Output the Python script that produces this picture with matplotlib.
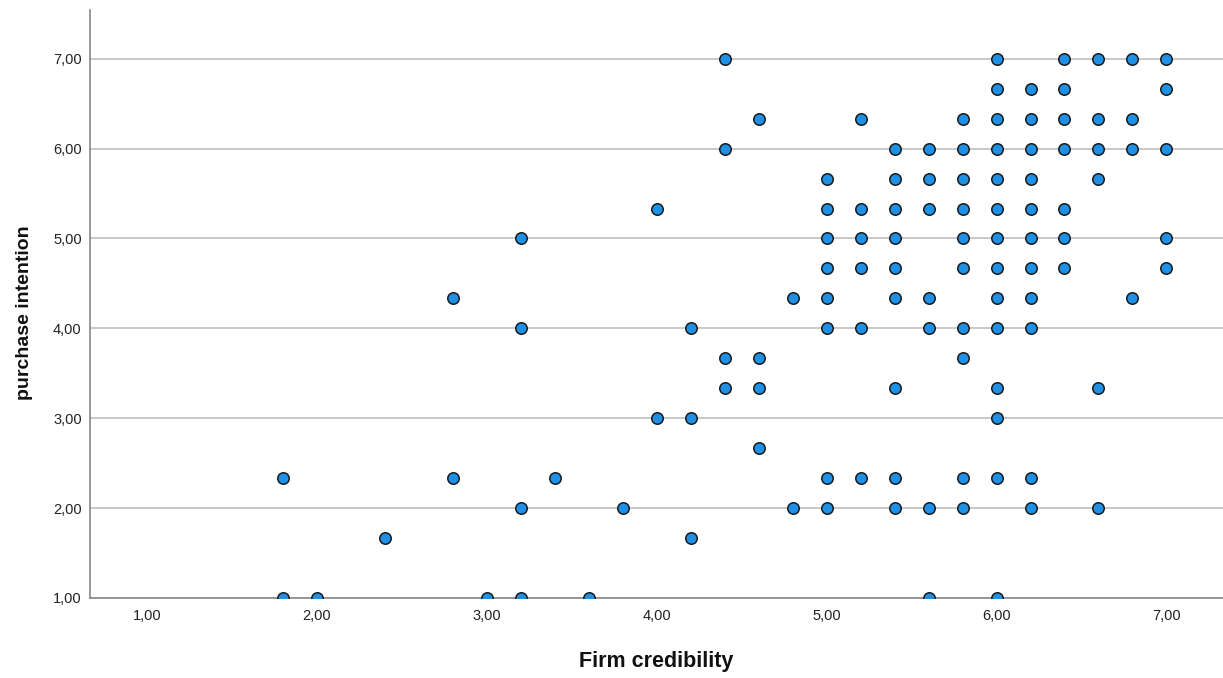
import matplotlib
matplotlib.use("Agg")
import matplotlib.pyplot as plt
from matplotlib.ticker import FuncFormatter

plt.rcParams['font.family'] = ['Liberation Sans', 'DejaVu Sans']

# one entry per visible dot (overlapping cases show as a single dot)
firm_credibility = [
    1.8, 1.8, 2.0, 2.4, 2.8, 2.8, 3.0, 3.2, 3.2, 3.2, 3.2, 3.4, 3.6, 3.8,
    4.0, 4.0, 4.2, 4.2, 4.2, 4.4, 4.4, 4.4, 4.4, 4.6, 4.6, 4.6, 4.6, 4.8, 4.8,
    5.0, 5.0, 5.0, 5.0, 5.0, 5.0, 5.0, 5.0,
    5.2, 5.2, 5.2, 5.2, 5.2, 5.2,
    5.4, 5.4, 5.4, 5.4, 5.4, 5.4, 5.4, 5.4, 5.4,
    5.6, 5.6, 5.6, 5.6, 5.6, 5.6, 5.6,
    5.8, 5.8, 5.8, 5.8, 5.8, 5.8, 5.8, 5.8, 5.8, 5.8,
    6.0, 6.0, 6.0, 6.0, 6.0, 6.0, 6.0, 6.0, 6.0, 6.0, 6.0, 6.0, 6.0, 6.0,
    6.2, 6.2, 6.2, 6.2, 6.2, 6.2, 6.2, 6.2, 6.2, 6.2, 6.2,
    6.4, 6.4, 6.4, 6.4, 6.4, 6.4, 6.4,
    6.6, 6.6, 6.6, 6.6, 6.6, 6.6,
    6.8, 6.8, 6.8, 6.8,
    7.0, 7.0, 7.0, 7.0, 7.0,
]
purchase_intention = [
    2.333, 1.0, 1.0, 1.667, 4.333, 2.333, 1.0, 5.0, 4.0, 2.0, 1.0, 2.333, 1.0, 2.0,
    5.333, 3.0, 4.0, 3.0, 1.667, 7.0, 6.0, 3.667, 3.333, 6.333, 3.667, 3.333, 2.667, 4.333, 2.0,
    5.667, 5.333, 5.0, 4.667, 4.333, 4.0, 2.333, 2.0,
    6.333, 5.333, 5.0, 4.667, 4.0, 2.333,
    6.0, 5.667, 5.333, 5.0, 4.667, 4.333, 3.333, 2.333, 2.0,
    6.0, 5.667, 5.333, 4.333, 4.0, 2.0, 1.0,
    6.333, 6.0, 5.667, 5.333, 5.0, 4.667, 4.0, 3.667, 2.333, 2.0,
    7.0, 6.667, 6.333, 6.0, 5.667, 5.333, 5.0, 4.667, 4.333, 4.0, 3.333, 3.0, 2.333, 1.0,
    6.667, 6.333, 6.0, 5.667, 5.333, 5.0, 4.667, 4.333, 4.0, 2.333, 2.0,
    7.0, 6.667, 6.333, 6.0, 5.333, 5.0, 4.667,
    7.0, 6.333, 6.0, 5.667, 3.333, 2.0,
    7.0, 6.333, 6.0, 4.333,
    7.0, 6.667, 6.0, 5.0, 4.667,
]
ticks = [1, 2, 3, 4, 5, 6, 7]

fig = plt.figure(figsize=(12.23, 6.78), dpi=100)
ax = fig.add_axes([0.0736, 0.118, 0.926, 0.867])

ax.scatter(firm_credibility, purchase_intention, s=68, c='#1e90e6',
           edgecolors='#1a1a1a', linewidths=1.1, zorder=3, clip_on=True)

ax.set_xlim(0.665, 7.33)
ax.set_ylim(1.0, 7.54)
ax.set_xticks(ticks)
ax.set_yticks(ticks)
comma = FuncFormatter(lambda v, p: f"{v:.2f}".replace('.', ','))
ax.xaxis.set_major_formatter(comma)
ax.yaxis.set_major_formatter(comma)
ax.tick_params(length=0, labelsize=10.5, colors='#222222')
ax.tick_params(axis='x', pad=8)
ax.tick_params(axis='y', pad=6)

ax.grid(axis='y', color='#c8c8c8', linewidth=1.4, zorder=1)
ax.set_axisbelow(True)
for side in ['top', 'right']:
    ax.spines[side].set_visible(False)
for side in ['left', 'bottom']:
    ax.spines[side].set_color('#888888')
    ax.spines[side].set_linewidth(1.2)

ax.set_xlabel('Firm credibility', fontsize=15.5, fontweight='bold',
              labelpad=20, color='#111111')
ax.set_ylabel('purchase intention', fontsize=14, fontweight='bold',
              color='#111111')
ax.yaxis.set_label_coords(-0.050, 0.485)

fig.savefig('out.png', dpi=100)
